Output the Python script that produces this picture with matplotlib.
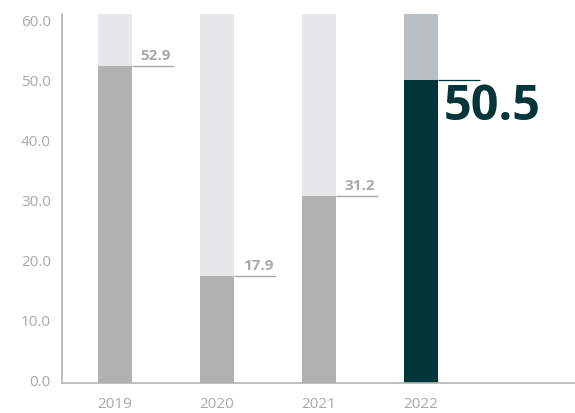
import matplotlib.pyplot as plt
import matplotlib.transforms as mtransforms
import numpy as np

plt.rcParams["font.family"] = ["Open Sans", "DejaVu Sans"]

YEARS = ["2019", "2020", "2021", "2022"]
VALUES = [52.9, 17.9, 31.2, 50.5]
Y_TICKS = [0, 10, 20, 30, 40, 50, 60]

GREY_BAR = "#b0b1b0"
GREY_BG = "#e6e7e8"
HL_BAR = "#02363b"
HL_BG = "#b9bfc2"
TEXT_GREY = "#a9a9a9"
AXIS_GREY = "#b4b4b4"

Y_TOP = 61.5
BAR_WIDTH = 0.333
LEADER = 0.41

fig = plt.figure(figsize=(5.75, 4.13), dpi=100)
ax = fig.add_axes([0.1078, 0.0726, 0.8922, 0.8935])

x = np.arange(len(YEARS))
values = np.array(VALUES)
last = len(YEARS) - 1

bar_colors = [HL_BAR if i == last else GREY_BAR for i in x]
bg_colors = [HL_BG if i == last else GREY_BG for i in x]

# background column up to the top of the scale, value column underneath
ax.bar(x, Y_TOP - values, bottom=values, width=BAR_WIDTH, color=bg_colors, linewidth=0)
ax.bar(x, values, width=BAR_WIDTH, color=bar_colors, linewidth=0)

for i, v in zip(x, values):
    x0 = i + BAR_WIDTH / 2
    x1 = x0 + LEADER
    if i == last:
        ax.plot([x0, x1], [v, v], color=HL_BAR, linewidth=0.9, solid_capstyle="butt")
        ax.annotate(f"{v:.1f}", (x0, v), xytext=(4, -2), textcoords="offset points",
                    ha="left", va="top", fontsize=35, fontweight="bold", color=HL_BAR)
    else:
        ax.plot([x0, x1], [v, v], color=TEXT_GREY, linewidth=1.0, solid_capstyle="butt")
        ax.annotate(f"{v:.1f}", (x1, v), xytext=(-2, 2), textcoords="offset points",
                    ha="right", va="bottom", fontsize=11, fontweight="bold", color=TEXT_GREY)

ax.set_xlim(-0.52, 4.51)
ax.set_ylim(0, Y_TOP)
ax.set_xticks(x)
ax.set_xticklabels(YEARS)
ax.set_yticks(Y_TICKS)
ax.set_yticklabels([f"{t:.1f}" for t in Y_TICKS])
ax.tick_params(axis="both", length=0, labelsize=11, labelcolor=TEXT_GREY)
ax.tick_params(axis="y", pad=8)
ax.tick_params(axis="x", pad=10)

shift = mtransforms.ScaledTranslation(0, 3 / 100, fig.dpi_scale_trans)
for label in ax.get_yticklabels():
    label.set_transform(label.get_transform() + shift)

for side in ["top", "right"]:
    ax.spines[side].set_visible(False)
for side in ["left", "bottom"]:
    ax.spines[side].set_color(AXIS_GREY)
    ax.spines[side].set_linewidth(1.2)

fig.savefig("out.png", dpi=100)
